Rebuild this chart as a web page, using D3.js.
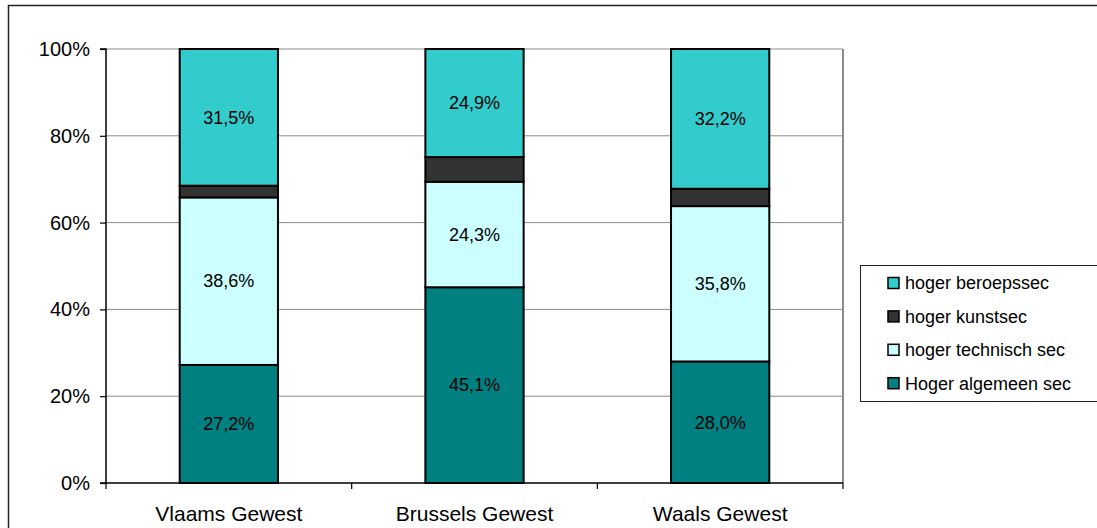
<!DOCTYPE html>
<html><head><meta charset="utf-8">
<script src="https://cdn.jsdelivr.net/npm/d3@7"></script>
<style>
html,body{margin:0;padding:0;background:#fff;}
svg{display:block;font-family:"Liberation Sans",Arial,sans-serif;}
</style></head>
<body>
<svg id="chart" width="1097" height="528"></svg>
<script>
const categories = ["Vlaams Gewest", "Brussels Gewest", "Waals Gewest"];
const seriesNames = ["Hoger algemeen sec", "hoger technisch sec", "hoger kunstsec", "hoger beroepssec"];
const algemeen = [27.2, 45.1, 28.0];
const technisch = [38.6, 24.3, 35.8];
const kunst = [2.7, 5.7, 4.0];
const beroeps = [31.5, 24.9, 32.2];
const showLabel = [true, true, false, true];
const colors = ["#008080", "#CCFFFF", "#333333", "#33CCCC"];
const yTicks = [0, 20, 40, 60, 80, 100];

(function () {
const seriesValues = [algemeen, technisch, kunst, beroeps];
const rows = categories.map((c, i) => {
  const r = {cat: c};
  seriesNames.forEach((s, j) => r[s] = seriesValues[j][i]);
  return r;
});

const svg = d3.select("#chart");
const pLeft = 106, pRight = 843, pTop = 49, pBottom = 483;

// outer chart border
svg.append("rect").attr("x", 8.5).attr("y", 5.5).attr("width", 1200).attr("height", 600)
  .attr("fill", "none").attr("stroke", "#222").attr("stroke-width", 1.5);

const x = d3.scaleBand().domain(categories).range([pLeft, pRight]).padding(0);
const y = d3.scaleLinear().domain([0, 100]).range([pBottom, pTop]);

// gridlines
svg.append("g").selectAll("line").data(yTicks.filter(t => t > 0)).join("line")
  .attr("x1", pLeft).attr("x2", pRight)
  .attr("y1", d => y(d)).attr("y2", d => y(d))
  .attr("stroke", "#8c8c8c").attr("stroke-width", 1);
// plot area right border
svg.append("line").attr("x1", pRight).attr("x2", pRight).attr("y1", pTop).attr("y2", pBottom)
  .attr("stroke", "#8c8c8c").attr("stroke-width", 2);

const stack = d3.stack().keys(seriesNames)(rows);
const bw = x.bandwidth() * 0.4;

const g = svg.append("g");
stack.forEach((layer, j) => {
  g.append("g").selectAll("rect").data(layer).join("rect")
    .attr("x", d => x(d.data.cat) + (x.bandwidth() - bw) / 2)
    .attr("y", d => y(d[1]))
    .attr("width", bw)
    .attr("height", d => y(d[0]) - y(d[1]))
    .attr("fill", colors[j])
    .attr("stroke", "#000").attr("stroke-width", 2);
});
stack.forEach((layer, j) => {
  if (showLabel[j]) {
    g.append("g").selectAll("text").data(layer).join("text")
      .attr("x", d => x(d.data.cat) + x.bandwidth() / 2)
      .attr("y", d => (y(d[0]) + y(d[1])) / 2)
      .attr("dy", "0.35em")
      .attr("text-anchor", "middle")
      .attr("font-size", 18)
      .attr("fill", "#000")
      .text(d => d3.format(".1f")(d[1] - d[0]).replace(".", ",") + "%");
  }
});

// y axis
const yAxis = svg.append("g").attr("transform", `translate(${pLeft},0)`)
  .call(d3.axisLeft(y).tickValues(yTicks).tickFormat(d => d + "%").tickSize(6).tickPadding(10));
yAxis.select(".domain").attr("stroke", "#000").attr("stroke-width", 1.5).attr("d", `M-6,${pTop}H0V${pBottom}H-6`);
yAxis.selectAll(".tick line").attr("stroke", "#000").attr("stroke-width", 1.2);
yAxis.selectAll("text").attr("font-size", 20).attr("fill", "#000").attr("font-family", "Liberation Sans, Arial, sans-serif");

// x axis
const xAxis = svg.append("g").attr("transform", `translate(0,${pBottom})`)
  .call(d3.axisBottom(x).tickSize(0).tickPadding(23));
xAxis.select(".domain").attr("stroke", "#000").attr("stroke-width", 1.5).attr("d", `M${pLeft},0H${pRight}`);
xAxis.selectAll("text").attr("font-size", 21).attr("fill", "#000").attr("font-family", "Liberation Sans, Arial, sans-serif");
const boundaries = categories.map(c => x(c)).concat([pRight]);
svg.append("g").selectAll("line").data(boundaries).join("line")
  .attr("x1", d => d).attr("x2", d => d)
  .attr("y1", pBottom).attr("y2", pBottom + 6)
  .attr("stroke", "#000").attr("stroke-width", 1.2);

// legend
const legend = svg.append("g");
legend.append("rect").attr("x", 860.5).attr("y", 265.5).attr("width", 240).attr("height", 136)
  .attr("fill", "#fff").attr("stroke", "#222").attr("stroke-width", 1);
const legOrder = [3, 2, 1, 0];
legOrder.forEach((j, k) => {
  const cy = 283 + k * 33.4;
  legend.append("rect").attr("x", 888).attr("y", cy - 5.5).attr("width", 11).attr("height", 11)
    .attr("fill", colors[j]).attr("stroke", "#000").attr("stroke-width", 1.5);
  legend.append("text").attr("x", 905).attr("y", cy).attr("dy", "0.35em")
    .attr("font-size", 18).attr("fill", "#000").text(seriesNames[j]);
});
})();
</script>
</body></html>
